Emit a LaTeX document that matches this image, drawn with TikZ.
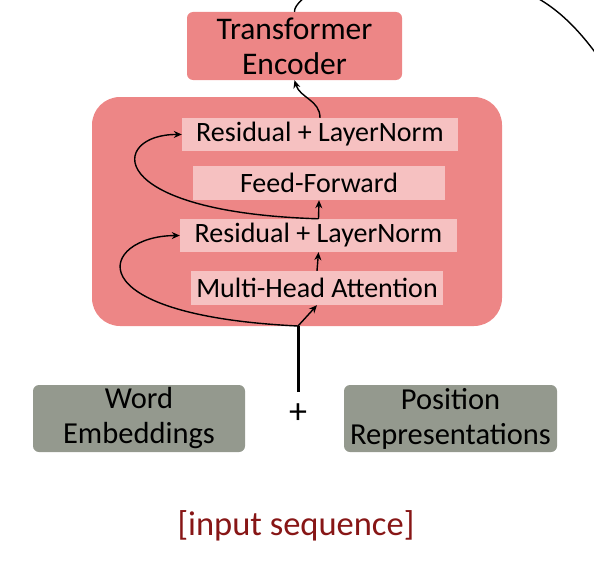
\documentclass[tikz,border=0pt]{standalone}
\usepackage{fontspec}
\setmainfont{Carlito}
\usetikzlibrary{arrows.meta}
\definecolor{salmon}{RGB}{237,134,134}
\definecolor{pinklight}{RGB}{246,193,193}
\definecolor{embgray}{RGB}{148,153,142}
\definecolor{seqred}{RGB}{135,22,22}
\begin{document}
\begin{tikzpicture}[x=1pt,y=-1pt,
  outerbox/.style={fill=salmon, rounded corners=6pt, inner sep=0pt, align=center},
  layerbox/.style={fill=pinklight, inner sep=0pt, font=\fontsize{28}{30}\selectfont},
  embbox/.style={fill=embgray, rounded corners=6pt, inner sep=0pt, align=center, font=\fontsize{30.5}{35}\selectfont},
  conn/.style={line width=1.4pt, -{Stealth[length=8pt,width=7pt]}},
  plainconn/.style={line width=1.4pt}
]
\useasboundingbox (0,0) rectangle (594,586);
\clip (0,0) rectangle (594,586);
% big encoder block
\node[fill=salmon, rounded corners=28pt, minimum width=410pt, minimum height=229pt, inner sep=0pt] (block) at (297,211.5) {};
% top box
\node[outerbox, minimum width=215pt, minimum height=68pt, font=\fontsize{31.5}{35}\selectfont] (enc) at (294.5,46) {Transformer\\Encoder};
% layers
\node[layerbox, minimum width=276pt, minimum height=33pt] (res1) at (320,134.5) {Residual + LayerNorm};
\node[layerbox, minimum width=252pt, minimum height=34pt] (ff) at (319,183) {Feed-Forward};
\node[layerbox, minimum width=277pt, minimum height=33pt] (res2) at (318.5,235.5) {Residual + LayerNorm};
\node[layerbox, minimum width=252pt, minimum height=34pt] (mha) at (317,288) {Multi-Head Attention};
% embeddings
\node[embbox, minimum width=212pt, minimum height=67pt] (word) at (139,418.5) {Word\\Embeddings};
\node[embbox, minimum width=213pt, minimum height=67pt] (pos) at (450.5,418.5) {Position\\Representations};
\node[font=\fontsize{36}{36}\selectfont, inner sep=0pt] (plus) at (298,414) {+};
\node[font=\fontsize{34.5}{36}\selectfont, text=seqred, inner sep=0pt] (seq) at (296,526) {[input sequence]};
% connectors
\coordinate (base) at (298,392);
\coordinate (j) at (298,326);
\draw[line width=3pt] (base) -- (j);
\draw[conn] (j) -- (mha.south);
\draw[conn] (j) .. controls (70,315) and (100,236) .. (res2.west);
\draw[conn] (mha.north) -- (res2.south);
\draw[conn] (res2.north) -- (ff.south);
\draw[conn] (res2.north) .. controls (100,212) and (110,134) .. (res1.west);
\draw[conn] (res1.north) .. controls (320,100) and (300,98) .. (enc.south);
% outgoing lines at the top
\coordinate (out1) at (330,-20);
\coordinate (out2) at (520,-10);
\coordinate (out3) at (620,90);
\draw[plainconn] (enc.north) .. controls (294,5) and (305,-5) .. (out1);
\draw[plainconn] (out2) .. controls (560,5) and (590,40) .. (out3);
\end{tikzpicture}
\end{document}
